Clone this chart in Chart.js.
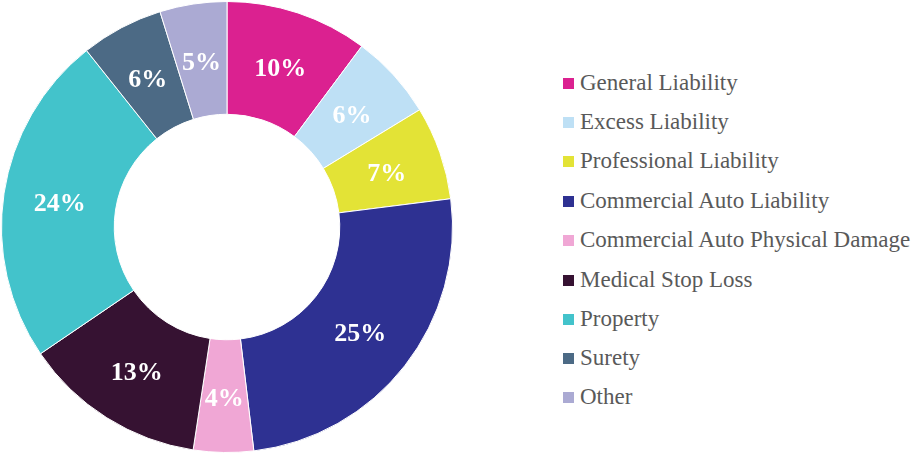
<!DOCTYPE html>
<html>
<head>
<meta charset="utf-8">
<script src="https://cdn.jsdelivr.net/npm/chart.js@4/dist/chart.umd.min.js"></script>
<style>
    body { margin: 0; background: #fff; }
    #wrap { position: relative; width: 914px; height: 454px; }
    #pie { position: absolute; left: 0; top: 0; width: 454px; height: 454px; }
    #legend { position: absolute; left: 563px; top: 0; margin: 0; padding: 0; list-style: none; }
    #legend li {
        position: absolute; left: 0; white-space: nowrap; height: 26px; line-height: 26px;
        font-family: "Liberation Serif", "Times New Roman", serif; font-size: 23px; color: #595959;
    }
    #legend span.box { display: inline-block; width: 11px; height: 11px; margin-right: 6px; vertical-align: 1px; }
</style>
</head>
<body>
<div id="wrap">
    <div id="pie"><canvas id="lineChart"></canvas></div>
    <ul id="legend"></ul>
</div>
<script>
const categories = ['General Liability', 'Excess Liability', 'Professional Liability', 'Commercial Auto Liability',
    'Commercial Auto Physical Damage', 'Medical Stop Loss', 'Property', 'Surety', 'Other'];
const shares = [10.2, 6.1, 6.7, 25.1, 4.3, 13.1, 23.8, 5.9, 4.8];
const colors = ['#db2190', '#bee0f5', '#e3e336', '#2e3192', '#f0a7d5', '#361232', '#43c3cb', '#4c6a85', '#abaad3'];

document.addEventListener("DOMContentLoaded", function () {
    // percent labels in the middle of each ring segment
    const sliceLabels = {
        id: 'sliceLabels',
        afterDatasetsDraw(chart) {
            const ctx = chart.ctx;
            const meta = chart.getDatasetMeta(0);
            ctx.save();
            ctx.font = 'bold 26px "Liberation Serif", serif';
            ctx.fillStyle = '#ffffff';
            ctx.textAlign = 'center';
            ctx.textBaseline = 'middle';
            meta.data.forEach((arc, i) => {
                const p = arc.tooltipPosition();
                ctx.fillText(Math.round(shares[i]) + '%', p.x, p.y + 3);
            });
            ctx.restore();
        }
    };

    new Chart(document.getElementById('lineChart'), {
        type: 'doughnut',
        data: {
            labels: categories,
            datasets: [{
                data: shares,
                backgroundColor: colors,
                borderColor: '#ffffff',
                borderWidth: 1
            }]
        },
        options: {
            responsive: true,
            maintainAspectRatio: false,
            animation: false,
            cutout: '50%',
            layout: { padding: 1 },
            plugins: {
                legend: { display: false },
                tooltip: { enabled: false }
            }
        },
        plugins: [sliceLabels]
    });

    const rowY = [83, 122, 161, 201, 240, 280, 319, 358, 397];
    const legend = document.getElementById('legend');
    categories.forEach((name, i) => {
        const li = document.createElement('li');
        li.style.top = (rowY[i] - 13) + 'px';
        li.innerHTML = '<span class="box" style="background:' + colors[i] + '"></span>' + name;
        legend.appendChild(li);
    });
});
</script>
</body>
</html>
